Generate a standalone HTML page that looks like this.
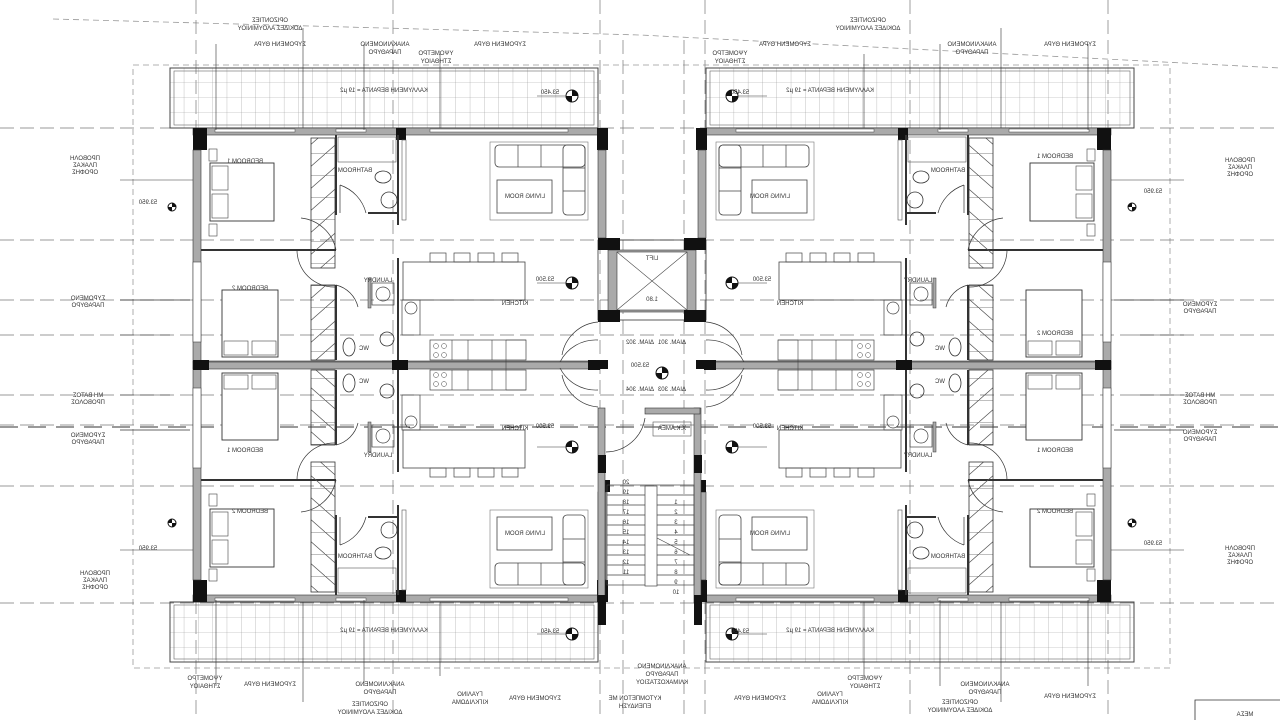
<!DOCTYPE html>
<html><head><meta charset="utf-8"><style>
html,body{margin:0;padding:0;background:#fff;}
svg{display:block;font-family:"Liberation Sans",sans-serif;}
text{fill:#333;font-size:6px;}
</style></head><body>
<svg width="1280" height="720" viewBox="0 0 1280 720" xmlns="http://www.w3.org/2000/svg">
<defs>
<pattern id="grid" x="170" y="68" width="14.3" height="15" patternUnits="userSpaceOnUse">
<path d="M14.3 0V15M0 15H14.3" stroke="#999" stroke-width="0.6" fill="none"/>
</pattern>
<pattern id="hatch" width="25" height="22" patternUnits="userSpaceOnUse">
<path d="M0 22L25 0M0 22H25" stroke="#555" stroke-width="0.7" fill="none"/>
</pattern>
<g id="q">
 <rect x="170" y="68" width="428" height="60" fill="url(#grid)" stroke="#444" stroke-width="1"/>
 <rect x="174" y="71" width="420" height="54" fill="none" stroke="#666" stroke-width="0.6"/>
 <rect x="193" y="128" width="405" height="7" fill="#aaa" stroke="#333" stroke-width="0.6"/>
 <rect x="215" y="129" width="80" height="3" fill="#fff" stroke="#444" stroke-width="0.5"/>
 <rect x="336" y="129" width="30" height="3" fill="#fff" stroke="#444" stroke-width="0.5"/>
 <rect x="430" y="129" width="138" height="3" fill="#fff" stroke="#444" stroke-width="0.5"/>
 <rect x="193" y="128" width="14" height="22" fill="#111"/>
 <rect x="396" y="128" width="10" height="12" fill="#111"/>
 <rect x="597" y="128" width="11" height="22" fill="#111"/>
 <rect x="193" y="150" width="8" height="212" fill="#aaa" stroke="#333" stroke-width="0.6"/>
 <rect x="193" y="262" width="8" height="80" fill="#fff" stroke="#444" stroke-width="0.6"/>
 <rect x="598" y="150" width="8" height="88" fill="#aaa" stroke="#333" stroke-width="0.6"/>
 <rect x="598" y="238" width="12" height="12" fill="#111"/>
 <rect x="193" y="361" width="405" height="7" fill="#aaa" stroke="#333" stroke-width="0.6"/>
 <rect x="193" y="360" width="16" height="9" fill="#111"/>
 <rect x="392" y="360" width="16" height="9" fill="#111"/>
 <rect x="588" y="360" width="12" height="9" fill="#111"/>
 <line x1="201" y1="250" x2="336" y2="250" stroke="#333" stroke-width="2"/>
 <rect x="311" y="138" width="24" height="130" fill="url(#hatch)" stroke="#333" stroke-width="0.8"/>
 <rect x="311" y="285" width="24" height="75" fill="url(#hatch)" stroke="#333" stroke-width="0.8"/>
 <line x1="336" y1="135" x2="336" y2="215" stroke="#333" stroke-width="2"/>
 <line x1="336" y1="285" x2="336" y2="360" stroke="#333" stroke-width="2"/>
 <rect x="338" y="137" width="58" height="25" fill="none" stroke="#555" stroke-width="0.6"/>
 <line x1="398" y1="135" x2="398" y2="225" stroke="#333" stroke-width="2"/>
 <line x1="368" y1="213" x2="398" y2="213" stroke="#333" stroke-width="2"/>
 <ellipse cx="383" cy="177" rx="8" ry="6" fill="none" stroke="#333" stroke-width="0.8"/>
 <circle cx="389" cy="200" r="8" fill="none" stroke="#333" stroke-width="0.8"/>
 <path d="M340 185 A40 40 0 0 1 366 213" fill="none" stroke="#333" stroke-width="0.7"/>
 <line x1="340" y1="185" x2="340" y2="213" stroke="#333" stroke-width="0.7"/>
 <rect x="402" y="140" width="4" height="80" fill="none" stroke="#555" stroke-width="0.6"/>
 <path d="M336 250 A40 40 0 0 0 301 218" fill="none" stroke="#333" stroke-width="0.7"/>
 <path d="M297 250 A37 37 0 0 0 335 287" fill="none" stroke="#333" stroke-width="0.7"/>
 <rect x="210" y="163" width="64" height="58" fill="#fff" stroke="#333" stroke-width="0.9"/>
 <rect x="212" y="166" width="16" height="24" fill="none" stroke="#444" stroke-width="0.6"/>
 <rect x="212" y="194" width="16" height="24" fill="none" stroke="#444" stroke-width="0.6"/>
 <rect x="209" y="149" width="8" height="12" fill="none" stroke="#444" stroke-width="0.6"/>
 <rect x="209" y="224" width="8" height="12" fill="none" stroke="#444" stroke-width="0.6"/>
 <rect x="222" y="290" width="56" height="67" fill="#fff" stroke="#333" stroke-width="0.9"/>
 <rect x="224" y="341" width="24" height="14" fill="none" stroke="#444" stroke-width="0.6"/>
 <rect x="252" y="341" width="24" height="14" fill="none" stroke="#444" stroke-width="0.6"/>
 <rect x="490" y="142" width="98" height="78" fill="none" stroke="#777" stroke-width="0.6"/>
 <rect x="495" y="145" width="90" height="22" rx="4" fill="none" stroke="#444" stroke-width="0.8"/>
 <rect x="563" y="145" width="22" height="70" rx="4" fill="none" stroke="#444" stroke-width="0.8"/>
 <path d="M518 145V167M541 145V167M563 168H585M563 191H585" stroke="#444" stroke-width="0.7"/>
 <rect x="497" y="180" width="55" height="33" fill="none" stroke="#444" stroke-width="0.8"/>
 <rect x="403" y="262" width="122" height="38" fill="none" stroke="#444" stroke-width="0.8"/>
 <rect x="430" y="253" width="16" height="9" fill="none" stroke="#444" stroke-width="0.7"/>
 <rect x="454" y="253" width="16" height="9" fill="none" stroke="#444" stroke-width="0.7"/>
 <rect x="478" y="253" width="16" height="9" fill="none" stroke="#444" stroke-width="0.7"/>
 <rect x="502" y="253" width="16" height="9" fill="none" stroke="#444" stroke-width="0.7"/>
 <line x1="398" y1="258" x2="398" y2="360" stroke="#333" stroke-width="2"/>
 <rect x="372" y="283" width="22" height="22" fill="none" stroke="#444" stroke-width="0.7"/>
 <circle cx="383" cy="294" r="7" fill="none" stroke="#444" stroke-width="0.7"/>
 <rect x="368" y="278" width="3" height="30" fill="#aaa" stroke="#333" stroke-width="0.5"/>
 <rect x="402" y="300" width="18" height="35" fill="none" stroke="#444" stroke-width="0.7"/>
 <circle cx="411" cy="308" r="6" fill="none" stroke="#444" stroke-width="0.7"/>
 <circle cx="387" cy="339" r="7" fill="none" stroke="#333" stroke-width="0.8"/>
 <ellipse cx="349" cy="347" rx="6" ry="9" fill="none" stroke="#333" stroke-width="0.8"/>
 <path d="M336 285 A30 30 0 0 1 358 307" fill="none" stroke="#333" stroke-width="0.7"/>
 <rect x="430" y="340" width="96" height="20" fill="none" stroke="#444" stroke-width="0.7"/>
 <path d="M452 340V360M468 340V360M492 340V360M506 340V368M506 340H526" stroke="#444" stroke-width="0.6"/>
 <circle cx="436" cy="346" r="2.5" fill="none" stroke="#444" stroke-width="0.5"/><circle cx="444" cy="346" r="2.5" fill="none" stroke="#444" stroke-width="0.5"/>
 <circle cx="436" cy="355" r="2.5" fill="none" stroke="#444" stroke-width="0.5"/><circle cx="444" cy="355" r="2.5" fill="none" stroke="#444" stroke-width="0.5"/>
 <path d="M598 340 A40 40 0 0 0 560 362" fill="none" stroke="#333" stroke-width="0.7"/>
 <g transform="translate(572,96)"><circle r="6" fill="#fff" stroke="#111"/><path d="M0 -6A6 6 0 0 1 6 0H0ZM0 6A6 6 0 0 1 -6 0H0Z" fill="#111"/></g>
 <g transform="translate(572,283)"><circle r="6" fill="#fff" stroke="#111"/><path d="M0 -6A6 6 0 0 1 6 0H0ZM0 6A6 6 0 0 1 -6 0H0Z" fill="#111"/></g>
 <g transform="translate(172,207)"><circle r="4" fill="#fff" stroke="#111"/><path d="M0 -4A4 4 0 0 1 4 0H0ZM0 4A4 4 0 0 1 -4 0H0Z" fill="#111"/></g>
 <line x1="537" y1="96" x2="566" y2="96" stroke="#333" stroke-width="0.6"/>
 <line x1="537" y1="283" x2="566" y2="283" stroke="#333" stroke-width="0.6"/>
 <path d="M216 44V130M303 28V128M364 44V130M440 54V128" stroke="#333" stroke-width="0.6" fill="none"/>
 <path d="M120 180H193M120 300H190M120 395H170M120 430H190" stroke="#333" stroke-width="0.6" fill="none"/>
</g>
</defs>
<path d="M53 19 L640 35 L1280 68" stroke="#999" stroke-width="0.8" stroke-dasharray="6 4" fill="none"/>
<rect x="133" y="65" width="1037" height="603" fill="none" stroke="#999" stroke-width="0.8" stroke-dasharray="6 4"/>
<g stroke="#777" stroke-width="0.7" stroke-dasharray="14 6" fill="none">
<path d="M196 0V720M393 0V720M600 0V720M623 40V720M684 40V720M705 0V720M910 0V720M1108 0V720"/>
<path d="M0 128H1280M0 240H1280M0 300H1280M0 335H1280M0 395H1280M0 425H1280M0 486H1280M0 603H1280"/>
</g>
<line x1="0" y1="427" x2="1280" y2="427" stroke="#333" stroke-width="1" stroke-dasharray="18 10"/>
<use href="#q"/>
<use href="#q" transform="translate(1304,0) scale(-1,1)"/>
<use href="#q" transform="translate(0,730) scale(1,-1)"/>
<use href="#q" transform="translate(1304,730) scale(-1,-1)"/>
<rect x="598" y="240" width="108" height="80" fill="none" stroke="#333" stroke-width="0.8"/>
<rect x="608" y="250" width="88" height="62" fill="#aaa" stroke="#333" stroke-width="0.6"/>
<rect x="617" y="252" width="70" height="58" fill="#fff" stroke="#333" stroke-width="0.6"/>
<path d="M617 252L687 310M687 252L617 310" stroke="#444" stroke-width="0.6"/>
<rect x="598" y="238" width="22" height="12" fill="#111"/><rect x="684" y="238" width="22" height="12" fill="#111"/>
<rect x="598" y="310" width="22" height="12" fill="#111"/><rect x="684" y="310" width="22" height="12" fill="#111"/>
<path d="M598 322 A40 40 0 0 0 562 355M598 407 A40 40 0 0 1 562 375M706 322 A40 40 0 0 1 742 355M706 407 A40 40 0 0 0 742 375" fill="none" stroke="#333" stroke-width="0.7"/>
<rect x="588" y="360" width="20" height="9" fill="#111"/><rect x="696" y="360" width="20" height="9" fill="#111"/>
<g transform="translate(662,373)"><circle r="6" fill="#fff" stroke="#111"/><path d="M0 -6A6 6 0 0 1 6 0H0ZM0 6A6 6 0 0 1 -6 0H0Z" fill="#111"/></g>
<rect x="598" y="408" width="7" height="195" fill="#aaa" stroke="#333" stroke-width="0.6"/>
<rect x="694" y="408" width="7" height="195" fill="#aaa" stroke="#333" stroke-width="0.6"/>
<rect x="645" y="408" width="55" height="6" fill="#aaa" stroke="#333" stroke-width="0.6"/>
<rect x="598" y="455" width="8" height="18" fill="#111"/><rect x="694" y="455" width="8" height="18" fill="#111"/>
<rect x="598" y="595" width="8" height="30" fill="#111"/><rect x="694" y="595" width="8" height="30" fill="#111"/>
<path d="M645 418A40 40 0 0 1 606 452" fill="none" stroke="#333" stroke-width="0.7"/>
<rect x="653" y="422" width="38" height="14" fill="none" stroke="#555" stroke-width="0.6"/>
<g stroke="#444" stroke-width="0.7" fill="none">
<rect x="607" y="485" width="87" height="100"/>
<rect x="645" y="486" width="12" height="100" fill="#fff"/>
<path d="M607 495H645M607 505H645M607 515H645M607 525H645M607 535H645M607 545H645M607 555H645M607 565H645M607 575H645"/>
<path d="M657 495H694M657 505H694M657 515H694M657 525H694M657 535H694M657 545H694M657 555H694M657 565H694M657 575H694"/>
<path d="M657 538L690 555"/>
</g>
<g font-size="5">
<text transform="translate(626,494) scale(-1,1)" text-anchor="middle">19</text>
<text transform="translate(626,504) scale(-1,1)" text-anchor="middle">18</text>
<text transform="translate(626,514) scale(-1,1)" text-anchor="middle">17</text>
<text transform="translate(626,524) scale(-1,1)" text-anchor="middle">16</text>
<text transform="translate(626,534) scale(-1,1)" text-anchor="middle">15</text>
<text transform="translate(626,544) scale(-1,1)" text-anchor="middle">14</text>
<text transform="translate(626,554) scale(-1,1)" text-anchor="middle">13</text>
<text transform="translate(626,564) scale(-1,1)" text-anchor="middle">12</text>
<text transform="translate(626,574) scale(-1,1)" text-anchor="middle">11</text>
<text transform="translate(626,484) scale(-1,1)" text-anchor="middle">20</text>
<text transform="translate(676,504) scale(-1,1)" text-anchor="middle">1</text>
<text transform="translate(676,514) scale(-1,1)" text-anchor="middle">2</text>
<text transform="translate(676,524) scale(-1,1)" text-anchor="middle">3</text>
<text transform="translate(676,534) scale(-1,1)" text-anchor="middle">4</text>
<text transform="translate(676,544) scale(-1,1)" text-anchor="middle">5</text>
<text transform="translate(676,554) scale(-1,1)" text-anchor="middle">6</text>
<text transform="translate(676,564) scale(-1,1)" text-anchor="middle">7</text>
<text transform="translate(676,574) scale(-1,1)" text-anchor="middle">8</text>
<text transform="translate(676,584) scale(-1,1)" text-anchor="middle">9</text>
<text transform="translate(676,594) scale(-1,1)" text-anchor="middle">10</text>
</g>
<g>
<text transform="translate(384,92) scale(-1,1)" text-anchor="middle">ΚΑΛΛΥΜΕΝΗ ΒΕΡΑΝΤΑ = 19 μ2</text>
<text transform="translate(830,92) scale(-1,1)" text-anchor="middle">ΚΑΛΛΥΜΕΝΗ ΒΕΡΑΝΤΑ = 19 μ2</text>
<text transform="translate(384,632) scale(-1,1)" text-anchor="middle">ΚΑΛΛΥΜΕΝΗ ΒΕΡΑΝΤΑ = 19 μ2</text>
<text transform="translate(830,632) scale(-1,1)" text-anchor="middle">ΚΑΛΛΥΜΕΝΗ ΒΕΡΑΝΤΑ = 19 μ2</text>
<text transform="translate(550,94) scale(-1,1)" text-anchor="middle">53.450</text>
<text transform="translate(740,94) scale(-1,1)" text-anchor="middle">53.450</text>
<text transform="translate(550,633) scale(-1,1)" text-anchor="middle">53.450</text>
<text transform="translate(740,633) scale(-1,1)" text-anchor="middle">53.450</text>
<text transform="translate(545,281) scale(-1,1)" text-anchor="middle">53.500</text>
<text transform="translate(762,281) scale(-1,1)" text-anchor="middle">53.500</text>
<text transform="translate(545,428) scale(-1,1)" text-anchor="middle">53.500</text>
<text transform="translate(762,428) scale(-1,1)" text-anchor="middle">53.500</text>
<text transform="translate(640,367) scale(-1,1)" text-anchor="middle">53.500</text>
<text transform="translate(148,204) scale(-1,1)" text-anchor="middle">53.950</text>
<text transform="translate(148,550) scale(-1,1)" text-anchor="middle">53.950</text>
<text transform="translate(1153,193) scale(-1,1)" text-anchor="middle">53.950</text>
<text transform="translate(1153,545) scale(-1,1)" text-anchor="middle">53.950</text>
<text transform="translate(245,163) scale(-1,1)" text-anchor="middle">BEDROOM 1</text>
<text transform="translate(250,290) scale(-1,1)" text-anchor="middle">BEDROOM 2</text>
<text transform="translate(245,452) scale(-1,1)" text-anchor="middle">BEDROOM 1</text>
<text transform="translate(250,513) scale(-1,1)" text-anchor="middle">BEDROOM 2</text>
<text transform="translate(1055,158) scale(-1,1)" text-anchor="middle">BEDROOM 1</text>
<text transform="translate(1055,335) scale(-1,1)" text-anchor="middle">BEDROOM 2</text>
<text transform="translate(1055,452) scale(-1,1)" text-anchor="middle">BEDROOM 1</text>
<text transform="translate(1055,513) scale(-1,1)" text-anchor="middle">BEDROOM 2</text>
<text transform="translate(525,198) scale(-1,1)" text-anchor="middle">LIVING ROOM</text>
<text transform="translate(770,198) scale(-1,1)" text-anchor="middle">LIVING ROOM</text>
<text transform="translate(525,535) scale(-1,1)" text-anchor="middle">LIVING ROOM</text>
<text transform="translate(770,535) scale(-1,1)" text-anchor="middle">LIVING ROOM</text>
<text transform="translate(515,305) scale(-1,1)" text-anchor="middle">KITCHEN</text>
<text transform="translate(790,305) scale(-1,1)" text-anchor="middle">KITCHEN</text>
<text transform="translate(515,430) scale(-1,1)" text-anchor="middle">KITCHEN</text>
<text transform="translate(790,430) scale(-1,1)" text-anchor="middle">KITCHEN</text>
<text transform="translate(355,172) scale(-1,1)" text-anchor="middle">BATHROOM</text>
<text transform="translate(948,172) scale(-1,1)" text-anchor="middle">BATHROOM</text>
<text transform="translate(355,558) scale(-1,1)" text-anchor="middle">BATHROOM</text>
<text transform="translate(948,558) scale(-1,1)" text-anchor="middle">BATHROOM</text>
<text transform="translate(378,282) scale(-1,1)" text-anchor="middle">LAUNDRY</text>
<text transform="translate(378,457) scale(-1,1)" text-anchor="middle">LAUNDRY</text>
<text transform="translate(918,282) scale(-1,1)" text-anchor="middle">LAUNDRY</text>
<text transform="translate(918,457) scale(-1,1)" text-anchor="middle">LAUNDRY</text>
<text transform="translate(364,350) scale(-1,1)" text-anchor="middle">WC</text>
<text transform="translate(364,383) scale(-1,1)" text-anchor="middle">WC</text>
<text transform="translate(940,350) scale(-1,1)" text-anchor="middle">WC</text>
<text transform="translate(940,383) scale(-1,1)" text-anchor="middle">WC</text>
<text transform="translate(652,260) scale(-1,1)" text-anchor="middle">LIFT</text>
<text transform="translate(652,301) scale(-1,1)" text-anchor="middle">1.80</text>
<text transform="translate(672,430) scale(-1,1)" text-anchor="middle">X.K.AMEA</text>
<text transform="translate(640,344) scale(-1,1)" text-anchor="middle">ΔΙΑΜ. 302</text>
<text transform="translate(672,344) scale(-1,1)" text-anchor="middle">ΔΙΑΜ. 301</text>
<text transform="translate(640,391) scale(-1,1)" text-anchor="middle">ΔΙΑΜ. 304</text>
<text transform="translate(672,391) scale(-1,1)" text-anchor="middle">ΔΙΑΜ. 303</text>
<text transform="translate(270,22) scale(-1,1)" text-anchor="middle">ΟΡΙΖΟΝΤΙΕΣ</text>
<text transform="translate(270,30) scale(-1,1)" text-anchor="middle">ΔΟΚΙΔΕΣ ΑΛΟΥΜΙΝΙΟΥ</text>
<text transform="translate(280,46) scale(-1,1)" text-anchor="middle">ΣΥΡΟΜΕΝΗ ΘΥΡΑ</text>
<text transform="translate(385,46) scale(-1,1)" text-anchor="middle">ΑΝΑΚΛΙΝΟΜΕΝΟ</text>
<text transform="translate(385,54) scale(-1,1)" text-anchor="middle">ΠΑΡΑΘΥΡΟ</text>
<text transform="translate(436,55) scale(-1,1)" text-anchor="middle">ΥΨΟΜΕΤΡΟ</text>
<text transform="translate(436,63) scale(-1,1)" text-anchor="middle">ΣΤΗΘΑΙΟΥ</text>
<text transform="translate(500,46) scale(-1,1)" text-anchor="middle">ΣΥΡΟΜΕΝΗ ΘΥΡΑ</text>
<text transform="translate(868,22) scale(-1,1)" text-anchor="middle">ΟΡΙΖΟΝΤΙΕΣ</text>
<text transform="translate(868,30) scale(-1,1)" text-anchor="middle">ΔΟΚΙΔΕΣ ΑΛΟΥΜΙΝΙΟΥ</text>
<text transform="translate(785,46) scale(-1,1)" text-anchor="middle">ΣΥΡΟΜΕΝΗ ΘΥΡΑ</text>
<text transform="translate(972,46) scale(-1,1)" text-anchor="middle">ΑΝΑΚΛΙΝΟΜΕΝΟ</text>
<text transform="translate(972,54) scale(-1,1)" text-anchor="middle">ΠΑΡΑΘΥΡΟ</text>
<text transform="translate(730,55) scale(-1,1)" text-anchor="middle">ΥΨΟΜΕΤΡΟ</text>
<text transform="translate(730,63) scale(-1,1)" text-anchor="middle">ΣΤΗΘΑΙΟΥ</text>
<text transform="translate(1070,46) scale(-1,1)" text-anchor="middle">ΣΥΡΟΜΕΝΗ ΘΥΡΑ</text>
<text transform="translate(85,160) scale(-1,1)" text-anchor="middle">ΠΡΟΒΟΛΗ</text>
<text transform="translate(85,167) scale(-1,1)" text-anchor="middle">ΠΛΑΚΑΣ</text>
<text transform="translate(85,174) scale(-1,1)" text-anchor="middle">ΟΡΟΦΗΣ</text>
<text transform="translate(88,300) scale(-1,1)" text-anchor="middle">ΣΥΡΟΜΕΝΟ</text>
<text transform="translate(88,307) scale(-1,1)" text-anchor="middle">ΠΑΡΑΘΥΡΟ</text>
<text transform="translate(88,397) scale(-1,1)" text-anchor="middle">ΜΗ ΒΑΤΟΣ</text>
<text transform="translate(88,404) scale(-1,1)" text-anchor="middle">ΠΡΟΒΟΛΟΣ</text>
<text transform="translate(88,437) scale(-1,1)" text-anchor="middle">ΣΥΡΟΜΕΝΟ</text>
<text transform="translate(88,444) scale(-1,1)" text-anchor="middle">ΠΑΡΑΘΥΡΟ</text>
<text transform="translate(95,575) scale(-1,1)" text-anchor="middle">ΠΡΟΒΟΛΗ</text>
<text transform="translate(95,582) scale(-1,1)" text-anchor="middle">ΠΛΑΚΑΣ</text>
<text transform="translate(95,589) scale(-1,1)" text-anchor="middle">ΟΡΟΦΗΣ</text>
<text transform="translate(1240,162) scale(-1,1)" text-anchor="middle">ΠΡΟΒΟΛΗ</text>
<text transform="translate(1240,169) scale(-1,1)" text-anchor="middle">ΠΛΑΚΑΣ</text>
<text transform="translate(1240,176) scale(-1,1)" text-anchor="middle">ΟΡΟΦΗΣ</text>
<text transform="translate(1200,306) scale(-1,1)" text-anchor="middle">ΣΥΡΟΜΕΝΟ</text>
<text transform="translate(1200,313) scale(-1,1)" text-anchor="middle">ΠΑΡΑΘΥΡΟ</text>
<text transform="translate(1200,397) scale(-1,1)" text-anchor="middle">ΜΗ ΒΑΤΟΣ</text>
<text transform="translate(1200,404) scale(-1,1)" text-anchor="middle">ΠΡΟΒΟΛΟΣ</text>
<text transform="translate(1200,434) scale(-1,1)" text-anchor="middle">ΣΥΡΟΜΕΝΟ</text>
<text transform="translate(1200,441) scale(-1,1)" text-anchor="middle">ΠΑΡΑΘΥΡΟ</text>
<text transform="translate(1240,550) scale(-1,1)" text-anchor="middle">ΠΡΟΒΟΛΗ</text>
<text transform="translate(1240,557) scale(-1,1)" text-anchor="middle">ΠΛΑΚΑΣ</text>
<text transform="translate(1240,564) scale(-1,1)" text-anchor="middle">ΟΡΟΦΗΣ</text>
<text transform="translate(205,680) scale(-1,1)" text-anchor="middle">ΥΨΟΜΕΤΡΟ</text>
<text transform="translate(205,688) scale(-1,1)" text-anchor="middle">ΣΤΗΘΑΙΟΥ</text>
<text transform="translate(270,686) scale(-1,1)" text-anchor="middle">ΣΥΡΟΜΕΝΗ ΘΥΡΑ</text>
<text transform="translate(380,686) scale(-1,1)" text-anchor="middle">ΑΝΑΚΛΙΝΟΜΕΝΟ</text>
<text transform="translate(380,694) scale(-1,1)" text-anchor="middle">ΠΑΡΑΘΥΡΟ</text>
<text transform="translate(370,706) scale(-1,1)" text-anchor="middle">ΟΡΙΖΟΝΤΙΕΣ</text>
<text transform="translate(370,714) scale(-1,1)" text-anchor="middle">ΔΟΚΙΔΕΣ ΑΛΟΥΜΙΝΙΟΥ</text>
<text transform="translate(470,696) scale(-1,1)" text-anchor="middle">ΓΥΑΛΙΝΟ</text>
<text transform="translate(470,704) scale(-1,1)" text-anchor="middle">ΚΙΓΚΛΙΔΩΜΑ</text>
<text transform="translate(535,700) scale(-1,1)" text-anchor="middle">ΣΥΡΟΜΕΝΗ ΘΥΡΑ</text>
<text transform="translate(635,700) scale(-1,1)" text-anchor="middle">ΚΥΤΟΜΠΕΤΟΝ ΜΕ</text>
<text transform="translate(635,708) scale(-1,1)" text-anchor="middle">ΕΠΕΝΔΥΣΗ</text>
<text transform="translate(662,668) scale(-1,1)" text-anchor="middle">ΑΝΑΚΛΙΝΟΜΕΝΟ</text>
<text transform="translate(662,676) scale(-1,1)" text-anchor="middle">ΠΑΡΑΘΥΡΟ</text>
<text transform="translate(662,684) scale(-1,1)" text-anchor="middle">ΚΛΙΜΑΚΟΣΤΑΣΙΟΥ</text>
<text transform="translate(760,700) scale(-1,1)" text-anchor="middle">ΣΥΡΟΜΕΝΗ ΘΥΡΑ</text>
<text transform="translate(830,696) scale(-1,1)" text-anchor="middle">ΓΥΑΛΙΝΟ</text>
<text transform="translate(830,704) scale(-1,1)" text-anchor="middle">ΚΙΓΚΛΙΔΩΜΑ</text>
<text transform="translate(865,680) scale(-1,1)" text-anchor="middle">ΥΨΟΜΕΤΡΟ</text>
<text transform="translate(865,688) scale(-1,1)" text-anchor="middle">ΣΤΗΘΑΙΟΥ</text>
<text transform="translate(960,704) scale(-1,1)" text-anchor="middle">ΟΡΙΖΟΝΤΙΕΣ</text>
<text transform="translate(960,712) scale(-1,1)" text-anchor="middle">ΔΟΚΙΔΕΣ ΑΛΟΥΜΙΝΙΟΥ</text>
<text transform="translate(985,686) scale(-1,1)" text-anchor="middle">ΑΝΑΚΛΙΝΟΜΕΝΟ</text>
<text transform="translate(985,694) scale(-1,1)" text-anchor="middle">ΠΑΡΑΘΥΡΟ</text>
<text transform="translate(1070,698) scale(-1,1)" text-anchor="middle">ΣΥΡΟΜΕΝΗ ΘΥΡΑ</text>
<text transform="translate(1245,716) scale(-1,1)" text-anchor="middle">ΜΕΣΑ</text>
</g>
<path d="M1195 720V700H1280" stroke="#333" stroke-width="0.8" fill="none"/>
</svg>
</body></html>
